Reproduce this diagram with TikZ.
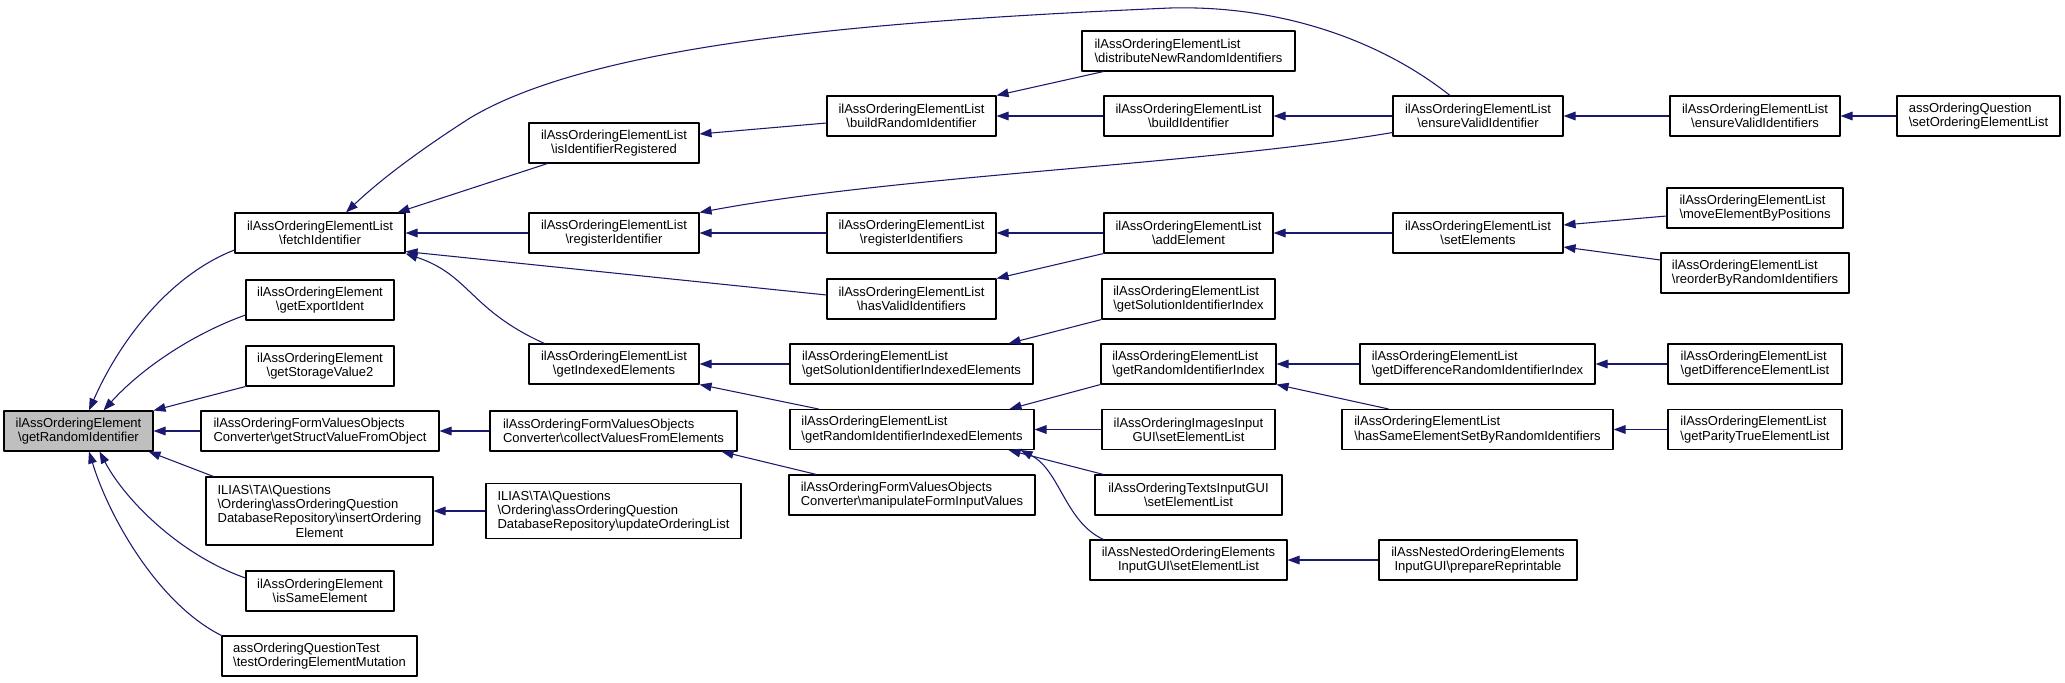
\documentclass[tikz,border=0pt]{standalone}
\usepackage{fontspec}
\setmainfont{Liberation Sans}
\usetikzlibrary{arrows.meta,calc}
\definecolor{edgeblue}{HTML}{191970}
\definecolor{rootgray}{HTML}{BFBFBF}
\newcommand{\bsl}{\textbackslash}

\begin{document}
\begin{tikzpicture}[x=0.75pt,y=-0.75pt,
  font=\fontsize{9.75}{10.7}\selectfont, line join=round,
  fn/.style={draw=black, fill=white, line width=0.8pt, inner xsep=2pt, inner ysep=4pt, minimum height=30pt, align=center},
  fl/.style={fn, align=left},
  wd/.style={minimum width=#1*0.75pt},
  call/.style={draw=edgeblue, line width=0.8pt, -{Triangle[length=9pt,width=6.5pt]}}]
\useasboundingbox (0,0) rectangle (2065,682);

% callees on the left, callers to the right
\node[fn, wd=149, fill=rootgray] (root) at (78.5,431) {ilAssOrderingElement\\\bsl getRandomIdentifier};
\node[fn, wd=170] (fetchId) at (320,233) {ilAssOrderingElementList\\\bsl fetchIdentifier};
\node[fn, wd=148] (exportId) at (320,300) {ilAssOrderingElement\\\bsl getExportIdent};
\node[fn, wd=148] (storageVal) at (320,366) {ilAssOrderingElement\\\bsl getStorageValue2};
\node[fl, wd=238] (structVal) at (320,431) {ilAssOrderingFormValuesObjects\\Converter\bsl getStructValueFromObject};
\node[fl, wd=227, minimum height=51pt] (insertEl) at (319.5,511) {ILIAS\bsl TA\bsl Questions\\\bsl Ordering\bsl assOrderingQuestion\\DatabaseRepository\bsl insertOrdering\\\hspace*{\fill}Element\hspace*{\fill}};
\node[fn, wd=148] (sameEl) at (320,591) {ilAssOrderingElement\\\bsl isSameElement};
\node[fl, wd=195] (testMut) at (319.5,656) {assOrderingQuestionTest\\\bsl testOrderingElementMutation};

\node[fn, wd=170] (isReg) at (614,143) {ilAssOrderingElementList\\\bsl isIdentifierRegistered};
\node[fn, wd=170] (regId) at (614,233) {ilAssOrderingElementList\\\bsl registerIdentifier};
\node[fn, wd=170] (getIdx) at (614,364) {ilAssOrderingElementList\\\bsl getIndexedElements};
\node[fl, wd=247] (collectVal) at (613.5,431) {ilAssOrderingFormValuesObjects\\Converter\bsl collectValuesFromElements};
\node[fl, wd=255, minimum height=41pt] (updateList) at (613.5,511) {ILIAS\bsl TA\bsl Questions\\\bsl Ordering\bsl assOrderingQuestion\\DatabaseRepository\bsl updateOrderingList};

\node[fn, wd=169] (buildRand) at (911.5,116) {ilAssOrderingElementList\\\bsl buildRandomIdentifier};
\node[fn, wd=169] (regIds) at (911.5,233) {ilAssOrderingElementList\\\bsl registerIdentifiers};
\node[fn, wd=169] (hasValid) at (911.5,299) {ilAssOrderingElementList\\\bsl hasValidIdentifiers};
\node[fl, wd=243] (solIdxEl) at (911.5,364) {ilAssOrderingElementList\\\bsl getSolutionIdentifierIndexedElements};
\node[fl, wd=244] (randIdxEl) at (912,429.5) {ilAssOrderingElementList\\\bsl getRandomIdentifierIndexedElements};
\node[fl, wd=246] (manipVal) at (912,495) {ilAssOrderingFormValuesObjects\\Converter\bsl manipulateFormInputValues};

\node[fl, wd=213] (distribRand) at (1188.5,51) {ilAssOrderingElementList\\\bsl distributeNewRandomIdentifiers};
\node[fn, wd=169] (buildId) at (1188.5,116) {ilAssOrderingElementList\\\bsl buildIdentifier};
\node[fn, wd=169] (addEl) at (1188.5,233) {ilAssOrderingElementList\\\bsl addElement};
\node[fl, wd=173] (solIdx) at (1188.5,299) {ilAssOrderingElementList\\\bsl getSolutionIdentifierIndex};
\node[fl, wd=175] (randIdx) at (1188.5,364) {ilAssOrderingElementList\\\bsl getRandomIdentifierIndex};
\node[fn, wd=173] (imgList) at (1188.5,429.5) {ilAssOrderingImagesInput\\GUI\bsl setElementList};
\node[fn, wd=187] (txtList) at (1188.5,495) {ilAssOrderingTextsInputGUI\\\bsl setElementList};
\node[fn, wd=197] (nestList) at (1188.5,560) {ilAssNestedOrderingElements\\InputGUI\bsl setElementList};

\node[fn, wd=170] (ensureId) at (1478,116) {ilAssOrderingElementList\\\bsl ensureValidIdentifier};
\node[fn, wd=170] (setEl) at (1478,233) {ilAssOrderingElementList\\\bsl setElements};
\node[fl, wd=235] (diffRandIdx) at (1477.5,364) {ilAssOrderingElementList\\\bsl getDifferenceRandomIdentifierIndex};
\node[fl, wd=271] (sameSet) at (1477.5,429.5) {ilAssOrderingElementList\\\bsl hasSameElementSetByRandomIdentifiers};
\node[fn, wd=198] (prepRepr) at (1478,560) {ilAssNestedOrderingElements\\InputGUI\bsl prepareReprintable};

\node[fn, wd=170] (ensureIds) at (1755,116) {ilAssOrderingElementList\\\bsl ensureValidIdentifiers};
\node[fl, wd=176] (moveEl) at (1755,208) {ilAssOrderingElementList\\\bsl moveElementByPositions};
\node[fl, wd=188] (reorderEl) at (1755,273) {ilAssOrderingElementList\\\bsl reorderByRandomIdentifiers};
\node[fl, wd=174] (diffList) at (1755,364) {ilAssOrderingElementList\\\bsl getDifferenceElementList};
\node[fl, wd=174] (parityList) at (1755,429.5) {ilAssOrderingElementList\\\bsl getParityTrueElementList};
\node[fl, wd=163] (setOrdList) at (1978.5,116) {assOrderingQuestion\\\bsl setOrderingElementList};

% straight calls
\foreach \a/\b in {structVal/root, collectVal/structVal, updateList/insertEl, regId/fetchId,
  buildId/buildRand, ensureId/buildId, regIds/regId, addEl/regIds, setEl/addEl,
  ensureIds/ensureId, setOrdList/ensureIds, solIdxEl/getIdx, imgList/randIdxEl,
  diffRandIdx/randIdx, diffList/diffRandIdx, parityList/sameSet, prepRepr/nestList}
  \draw[call] (\a.west) -- (\b.east);

\draw[call] (storageVal.south west) -- (root.north east);
\draw[call] ($(insertEl.north west)+(8,0)$) -- ($(root.south east)+(-5,0)$);
\draw[call] ($(isReg.south west)+(19,0)$) -- ($(fetchId.north east)+(-8,0)$);
\draw[call] ($(hasValid.west)+(0,-4)$) -- ($(fetchId.south east)+(0,-2)$);
\draw[call] ($(buildRand.west)+(0,7)$) -- ($(isReg.east)+(0,-9)$);
\draw[call] ($(distribRand.south west)+(22,0)$) -- (buildRand.north east);
\draw[call] (addEl.south west) -- (hasValid.north east);
\draw[call] ($(moveEl.west)+(0,8)$) -- ($(setEl.east)+(0,-8)$);
\draw[call] ($(reorderEl.west)+(0,-13)$) -- ($(setEl.east)+(0,14)$);
\draw[call] ($(randIdxEl.north west)+(29,0)$) -- (getIdx.south east);
\draw[call] (solIdx.south west) -- ($(solIdxEl.north east)+(-25,0)$);
\draw[call] (randIdx.south west) -- ($(randIdxEl.north east)+(-25,0)$);
\draw[call] ($(txtList.north west)+(9,0)$) -- ($(randIdxEl.south east)+(-26,0)$);
\draw[call] ($(manipVal.north west)+(28,0)$) -- ($(collectVal.south east)+(-16,0)$);
\draw[call] ($(sameSet.north west)+(47,0)$) -- (randIdx.south east);

% bent calls
\draw[call] ($(fetchId.west)+(0,17)$) .. controls (170,275) and (120,340) .. ($(root.north)+(10.5,0)$);
\draw[call] ($(exportId.west)+(0,15)$) .. controls (190,335) and (140,370) .. ($(root.north)+(25,0)$);
\draw[call] ($(sameEl.west)+(0,-13)$) .. controls (180,555) and (125,500) .. ($(root.south)+(21,0)$);
\draw[call] (testMut.north west) .. controls (160,605) and (110,520) .. ($(root.south)+(10.5,0)$);
\draw[call] ($(ensureId.north)+(-28,0)$) .. controls (1380,40) and (1280,5) .. (1170,8)
  .. controls (900,20) and (600,40) .. (470,118)
  .. controls (420,150) and (380,180) .. ($(fetchId.north)+(26,0)$);
\draw[call] ($(ensureId.south west)+(0,-4)$) .. controls (1200,165) and (900,175) .. (regId.north east);
\draw[call] ($(getIdx.north west)+(16,0)$) .. controls (470,310) and (470,275) .. (fetchId.south east);
\draw[call] ($(nestList.north west)+(14,0)$) .. controls (1065,522) and (1060,470) .. ($(randIdxEl.south east)+(-14,0)$);
\end{tikzpicture}
\end{document}
